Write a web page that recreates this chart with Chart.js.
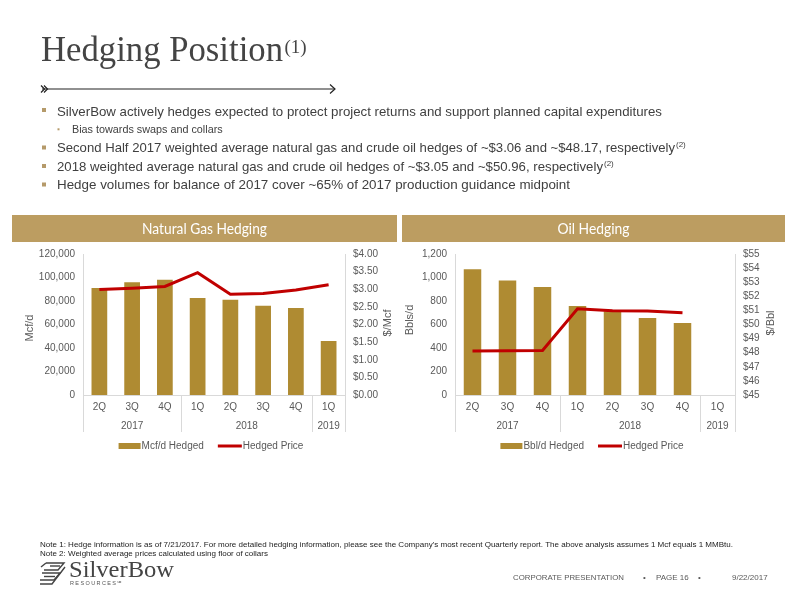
<!DOCTYPE html>
<html><head><meta charset="utf-8">
<script src="https://cdn.jsdelivr.net/npm/chart.js@4.4.0/dist/chart.umd.min.js"></script>
<style>
body{margin:0;width:800px;height:600px;background:#fff;position:relative;overflow:hidden;font-family:"Liberation Sans",Arial,sans-serif;}
.hdr{position:absolute;top:215px;height:27px;background:#BC9D61;}
canvas{position:absolute;}
svg{position:absolute;left:0;top:0;}
</style></head><body>
<div class="hdr" style="left:12px;width:385px"></div>
<div class="hdr" style="left:402px;width:383px"></div>
<canvas id="gas" width="385" height="215" style="left:12px;top:245px"></canvas>
<canvas id="oil" width="393" height="215" style="left:397px;top:245px"></canvas>
<svg width="800" height="600" viewBox="0 0 800 600">
  <text x="41" y="61" font-family="Liberation Serif" font-size="35" fill="#444" textLength="242" lengthAdjust="spacingAndGlyphs">Hedging Position</text>
  <text x="284.5" y="53" font-family="Liberation Serif" font-size="19" fill="#444">(1)</text>
  <g stroke="#222" stroke-width="1.2" fill="none">
    <line x1="42" y1="89" x2="335" y2="89"/>
    <polyline points="41,85.5 44.5,89 41,92.5"/>
    <polyline points="44,85.5 47.5,89 44,92.5"/>
    <polyline points="330,84.5 335,89 330,93.5"/>
  </g>
  <g fill="#B59A6A">
    <rect x="42" y="108" width="4" height="4"/>
    <rect x="57.5" y="128.3" width="2" height="2"/>
    <rect x="42" y="145.5" width="4" height="4"/>
    <rect x="42" y="164" width="4" height="4"/>
    <rect x="42" y="182.5" width="4" height="4"/>
  </g>
  <g font-family="Liberation Sans" fill="#404040">
    <text x="57" y="115.5" font-size="13.3" textLength="605" lengthAdjust="spacingAndGlyphs">SilverBow actively hedges expected to protect project returns and support planned capital expenditures</text>
    <text x="72" y="133" font-size="10.8">Bias towards swaps and collars</text>
    <text x="57" y="152" font-size="13.3" textLength="618" lengthAdjust="spacingAndGlyphs">Second Half 2017 weighted average natural gas and crude oil hedges of ~$3.06 and ~$48.17, respectively</text>
    <text x="676" y="147" font-size="8">(2)</text>
    <text x="57" y="170.5" font-size="13.3" textLength="546" lengthAdjust="spacingAndGlyphs">2018 weighted average natural gas and crude oil hedges of ~$3.05 and ~$50.96, respectively</text>
    <text x="604" y="165.5" font-size="8">(2)</text>
    <text x="57" y="189" font-size="13.3" textLength="513" lengthAdjust="spacingAndGlyphs">Hedge volumes for balance of 2017 cover ~65% of 2017 production guidance midpoint</text>
  </g>
  <g font-family="Lato" font-size="15" fill="#ffffff" text-anchor="middle">
    <text x="204.5" y="234" textLength="125" lengthAdjust="spacingAndGlyphs">Natural Gas Hedging</text>
    <text x="593.5" y="234" textLength="72" lengthAdjust="spacingAndGlyphs">Oil Hedging</text>
  </g>
  <g font-family="Liberation Sans" font-size="8" fill="#222">
    <text x="40" y="547" textLength="693" lengthAdjust="spacingAndGlyphs">Note 1: Hedge information is as of 7/21/2017.  For more detailed hedging information, please see the Company's most recent Quarterly report. The above analysis assumes 1 Mcf equals 1 MMBtu.</text>
    <text x="40" y="556">Note 2: Weighted average prices calculated using floor of collars</text>
  </g>
  <g stroke="#444" stroke-width="1.4" fill="none">
    <polyline points="46,563 64,563 58,570 44,570"/>
    <polyline points="50,566 60,566"/>
    <polyline points="42,573 60,573 54,580 40,580"/>
    <polyline points="44,576.5 55,576.5"/>
    <polyline points="40,584 52,584 65,567"/>
    <polyline points="41,567 46,563"/>
  </g>
  <text x="69" y="577" font-family="Liberation Serif" font-size="24" fill="#444" textLength="105" lengthAdjust="spacingAndGlyphs">SilverBow</text>
  <text x="70" y="585" font-family="Liberation Sans" font-size="5.5" fill="#555" letter-spacing="1.4">RESOURCES℠</text>
  <g font-family="Liberation Sans" font-size="8" fill="#595959">
    <text x="513" y="580" textLength="111" lengthAdjust="spacingAndGlyphs">CORPORATE PRESENTATION</text>
    <text x="643" y="580">•</text>
    <text x="656" y="580">PAGE 16</text>
    <text x="698" y="580">•</text>
    <text x="732" y="580">9/22/2017</text>
  </g>
</svg>
<script>
// ---- data ----
const quarters = ['2Q','3Q','4Q','1Q','2Q','3Q','4Q','1Q'];
const years = ['2017','2018','2019'];
const yearSpans = [3,4,1];
const gasVolume = [91000,96000,98000,82500,81000,76000,74000,46000];
const gasPrice = [2.99,3.03,3.08,3.47,2.86,2.88,2.98,3.13];
const oilVolume = [1070,975,920,757,712,655,613,null];
const oilPrice = [48.12,48.14,48.15,51.12,50.98,50.96,50.84,null];
const gasLabels = ['Mcf/d Hedged','Hedged Price'];
const oilLabels = ['Bbl/d Hedged','Hedged Price'];
const gasTitles = ['Mcf/d','$/Mcf'];
const oilTitles = ['Bbls/d','$/Bbl'];

const BAR = '#AF8B32', LINE = '#C00000', TXT = '#595959', GRID = '#D9D9D9';
const FONT = '"Liberation Sans", Arial, sans-serif';

const deco = {
  id:'deco',
  afterDraw(chart, args, o){
    const {ctx, chartArea:a} = chart;
    const x = chart.scales.x;
    const ext = a.bottom + 37;
    const n = quarters.length;
    const step = (a.right - a.left) / n;
    ctx.save();
    ctx.strokeStyle = GRID; ctx.lineWidth = 1;
    ctx.beginPath();
    const L = Math.round(a.left)+0.5, R = Math.round(a.right)+0.5, B = Math.round(a.bottom)+0.5;
    ctx.moveTo(L, B); ctx.lineTo(R, B);
    ctx.moveTo(L, a.top); ctx.lineTo(L, ext);
    ctx.moveTo(R, a.top); ctx.lineTo(R, ext);
    let idx = 0;
    ctx.font = '10px ' + FONT; ctx.fillStyle = TXT; ctx.textAlign = 'center'; ctx.textBaseline = 'middle';
    const yl = [];
    years.forEach((yr, i) => {
      const s = idx; idx += yearSpans[i];
      const xs = x.getPixelForValue(s) - step/2, xe = x.getPixelForValue(idx-1) + step/2;
      if (idx < n) { const xx = Math.round(xe)+0.5; ctx.moveTo(xx, B); ctx.lineTo(xx, ext); }
      yl.push([yr, (xs+xe)/2]);
    });
    ctx.stroke();
    yl.forEach(([t, cx]) => ctx.fillText(t, cx, a.bottom + 31));
    // axis titles
    ctx.font = '11px ' + FONT;
    o.titles.forEach((t, i) => {
      ctx.save(); ctx.translate(o.titlePos[i][0], o.titlePos[i][1]); ctx.rotate(-Math.PI/2);
      ctx.fillText(t, 0, 0); ctx.restore();
    });
    // legend (bar series first)
    ctx.font = '10px ' + FONT; ctx.textAlign = 'left';
    const items = chart.data.datasets.map(d => ({label:d.label, type:d.type||'bar', color: d.type==='line' ? d.borderColor : d.backgroundColor}))
      .sort((p, q) => (p.type === 'bar' ? 0 : 1) - (q.type === 'bar' ? 0 : 1));
    const sw = [22, 24], gap = 14;
    let total = 0;
    items.forEach((it,i) => { total += sw[i] + 1 + ctx.measureText(it.label).width + (i ? 0 : gap); });
    let cx = (a.left + a.right)/2 + o.legendShift - total/2;
    const ly = o.legendY;
    items.forEach((it,i) => {
      if (it.type === 'line') {
        ctx.strokeStyle = it.color; ctx.lineWidth = 3; ctx.beginPath();
        ctx.moveTo(cx, ly); ctx.lineTo(cx + sw[i], ly); ctx.stroke();
      } else {
        ctx.fillStyle = it.color; ctx.fillRect(cx, ly - 3, sw[i], 6);
      }
      cx += sw[i] + 1;
      ctx.fillStyle = TXT; ctx.fillText(it.label, cx, ly + 0.5);
      cx += ctx.measureText(it.label).width + gap;
    });
    ctx.restore();
  }
};

function noPad(s){ s.paddingTop = 0; s.paddingBottom = 0; }

function makeChart(id, vol, price, labels, titles, cfg){
  return new Chart(document.getElementById(id), {
    data: {
      labels: quarters,
      datasets: [
        {type:'line', label:labels[1], data:price, yAxisID:'y1', borderColor:LINE, backgroundColor:LINE, borderWidth:3, pointRadius:0, tension:0, order:1},
        {type:'bar', label:labels[0], data:vol, yAxisID:'y', backgroundColor:BAR, categoryPercentage:1, barPercentage:cfg.barPct, order:2}
      ]
    },
    options: {
      responsive:false, animation:false, devicePixelRatio:1,
      layout:{padding:{top:9, bottom:0, left:0, right:0}},
      plugins:{legend:{display:false}, tooltip:{enabled:false}, deco:{titles, titlePos:cfg.titlePos, legendY:201, legendShift:cfg.legendShift}},
      scales:{
        x:{grid:{display:false, drawTicks:false, tickLength:0}, border:{display:false},
           ticks:{font:{family:FONT,size:10}, color:TXT, padding:6, maxRotation:0, autoSkip:false},
           afterFit(s){ s.height = 65; }},
        y:{position:'left', min:cfg.yMin, max:cfg.yMax, grid:{display:false, drawTicks:false, tickLength:0}, border:{display:false},
           ticks:{stepSize:cfg.yStep, font:{family:FONT,size:10}, color:TXT, padding:8, autoSkip:false},
           afterFit(s){ s.width = cfg.leftW; noPad(s); }},
        y1:{position:'right', min:cfg.y1Min, max:cfg.y1Max, grid:{display:false, drawTicks:false, tickLength:0}, border:{display:false},
           ticks:{stepSize:cfg.y1Step, font:{family:FONT,size:10}, color:TXT, padding:8, autoSkip:false, callback:cfg.y1Fmt},
           afterFit(s){ s.width = cfg.rightW; noPad(s); }}
      }
    },
    plugins:[deco]
  });
}

makeChart('gas', gasVolume, gasPrice, gasLabels, gasTitles, {
  barPct:0.48, yMin:0, yMax:120000, yStep:20000, y1Min:0, y1Max:4, y1Step:0.5,
  y1Fmt: v => '$' + Number(v).toFixed(2), leftW:71, rightW:52,
  titlePos:[[18,83],[376,78]], legendShift:-3
});
makeChart('oil', oilVolume, oilPrice, oilLabels, oilTitles, {
  barPct:0.5, yMin:0, yMax:1200, yStep:200, y1Min:45, y1Max:55, y1Step:1,
  y1Fmt: v => '$' + v, leftW:58, rightW:55,
  titlePos:[[13,75],[374,78]], legendShift:-3
});
</script>
</body></html>
